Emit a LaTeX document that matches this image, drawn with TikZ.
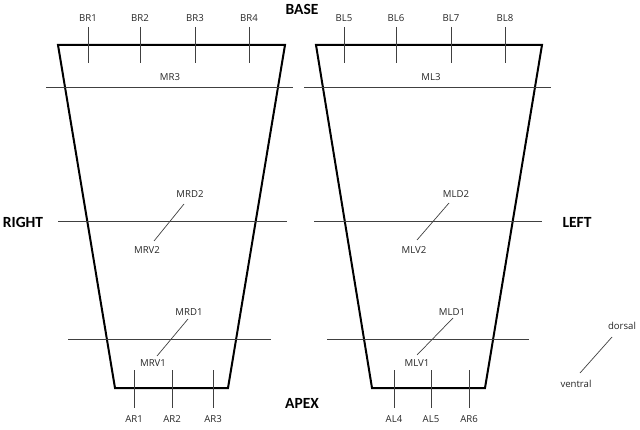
\documentclass[tikz,border=0pt]{standalone}
\usepackage{fontspec}
\setmainfont{Carlito}
\newfontfamily\smallfam{Open Sans}
\begin{document}
\begin{tikzpicture}[x=1pt,y=-1pt,
  lbl/.style={inner sep=0pt,font=\smallfam\fontsize{9.6}{12}\selectfont,text=black!85},
  big/.style={inner sep=0pt,font=\fontsize{15.5}{18}\selectfont\bfseries},
  thin/.style={draw=black!75,line width=0.7pt},
  heart/.style={draw=black,line width=2pt,line join=miter}]
\useasboundingbox (0,0) rectangle (640,430);
% trapezoids
\draw[heart] (58,45) -- (285,45) -- (228,388) -- (115,388) -- cycle;
\draw[heart] (316,45) -- (542,45) -- (485,388) -- (372,388) -- cycle;
% big labels
\node[big] (base) at (302,9) {BASE};
\node[big] (right) at (23,222) {RIGHT};
\node[big] (left) at (577,222) {LEFT};
\node[big] (apex) at (302,403) {APEX};
% top ticks
\foreach \x/\t in {88/BR1,140/BR2,195/BR3,249/BR4,344/BL5,396/BL6,451/BL7,505/BL8}{
  \node[lbl] (\t) at (\x,18) {\t};
  \coordinate (\t a) at (\x,27);
  \coordinate (\t b) at (\x,63);
  \draw[thin] (\t a) -- (\t b);
}
% bottom ticks
\foreach \x/\t in {134/AR1,172/AR2,213/AR3,394/AL4,431/AL5,469/AR6}{
  \node[lbl] (\t) at (\x,419) {\t};
  \coordinate (\t a) at (\x,370);
  \coordinate (\t b) at (\x,408);
  \draw[thin] (\t a) -- (\t b);
}
% horizontal lines
\coordinate (mr3a) at (46,87); \coordinate (mr3b) at (293,87);
\coordinate (ml3a) at (304,87); \coordinate (ml3b) at (551,87);
\coordinate (mr2a) at (58,221); \coordinate (mr2b) at (287,221);
\coordinate (ml2a) at (314,221); \coordinate (ml2b) at (542,221);
\coordinate (mr1a) at (68,339); \coordinate (mr1b) at (271,339);
\coordinate (ml1a) at (327,339); \coordinate (ml1b) at (529,339);
\foreach \p in {mr3,ml3,mr2,ml2,mr1,ml1}{\draw[thin] (\p a) -- (\p b);}
\node[lbl] (MR3) at (170,77) {MR3};
\node[lbl] (ML3) at (431,77) {ML3};
% diagonal labels
\node[lbl] (MRD2) at (190,194) {MRD2};
\node[lbl] (MRV2) at (147,250) {MRV2};
\coordinate (d2r1) at (184,204); \coordinate (d2r2) at (154,241);
\draw[thin] (d2r1) -- (d2r2);
\node[lbl] (MLD2) at (456,194) {MLD2};
\node[lbl] (MLV2) at (414,250) {MLV2};
\coordinate (d2l1) at (449,203); \coordinate (d2l2) at (417,240);
\draw[thin] (d2l1) -- (d2l2);
\node[lbl] (MRD1) at (189,312) {MRD1};
\node[lbl] (MRV1) at (153,363) {MRV1};
\coordinate (d1r1) at (188,319); \coordinate (d1r2) at (157,356);
\draw[thin] (d1r1) -- (d1r2);
\node[lbl] (MLD1) at (452,312) {MLD1};
\node[lbl] (MLV1) at (417,363) {MLV1};
\coordinate (d1l1) at (453,318); \coordinate (d1l2) at (417,355);
\draw[thin] (d1l1) -- (d1l2);
% legend
\node[lbl] (dorsal) at (622,326) {dorsal};
\node[lbl] (ventral) at (576,384) {ventral};
\coordinate (lg1) at (612,337); \coordinate (lg2) at (580,373);
\draw[thin] (lg1) -- (lg2);
\end{tikzpicture}
\end{document}
